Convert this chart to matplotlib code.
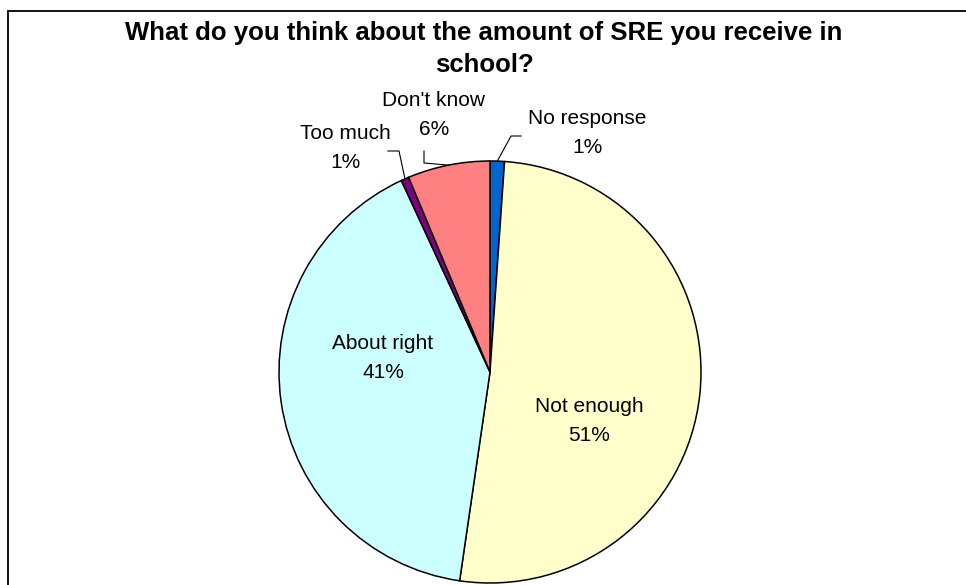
import matplotlib.pyplot as plt
from matplotlib.patches import Rectangle
import numpy as np

plt.rcParams["font.family"] = ["Liberation Sans", "DejaVu Sans"]

# survey answers, clockwise from 12 o'clock
labels = ["No response", "Not enough", "About right", "Too much", "Don't know"]
shares = [1.1, 51.2, 40.8, 0.6, 6.3]
colors = ["#0066CC", "#FFFFCC", "#CCFFFF", "#800080", "#FF8080"]

title = "What do you think about the amount of SRE you receive in\nschool?"

W, H = 966, 585
fig = plt.figure(figsize=(W / 100, H / 100), dpi=100)
ax = fig.add_axes([0, 0, 1, 1])

# chart border (only top and left edges fall inside the image)
ax.add_patch(Rectangle((8, -20), 1100, H - 11 + 20, fill=False,
                       edgecolor="black", linewidth=1.3))

cx, cy, r = 490, H - 372, 211
wedges, _ = ax.pie(shares, colors=colors, startangle=90, counterclock=False,
                   center=(cx, cy), radius=r, frame=True,
                   wedgeprops=dict(edgecolor="black", linewidth=1.1))
ax.set_xlim(0, W)
ax.set_ylim(0, H)
ax.set_aspect("equal")
ax.axis("off")

fs = 15
ls = 1.62
# label centres (pixels from top-left); outer ones also get the leader elbow
inside = {"Not enough": (589, 421), "About right": (383, 358)}
outside = {
    "No response": ((587, 133), (511, 136), (521, 136)),
    "Don't know": ((434, 115), (424, 163), (424, 151)),
    "Too much": ((345, 148), (399, 151), (388, 151)),
}

for w, lab, val in zip(wedges, labels, shares):
    mid = np.deg2rad((w.theta1 + w.theta2) / 2)
    text = f"{lab}\n{val:.0f}%"
    if lab in inside:
        tx, ty = inside[lab]
        ax.text(tx, H - ty, text, ha="center", va="center", fontsize=fs,
                linespacing=ls)
    else:
        (tx, ty), (ex, ey), (kx, ky) = outside[lab]
        ax.text(tx, H - ty, text, ha="center", va="center", fontsize=fs,
                linespacing=ls)
        x0 = cx + r * np.cos(mid)
        y0 = cy + r * np.sin(mid)
        ax.plot([x0, ex, kx], [y0, H - ey, H - ky], color="black", lw=0.8)

fig.text(484 / W, 1 - 49 / H, title, ha="center", va="center",
         fontsize=18.5, fontweight="bold", linespacing=1.38)

fig.savefig("out.png", dpi=100)
